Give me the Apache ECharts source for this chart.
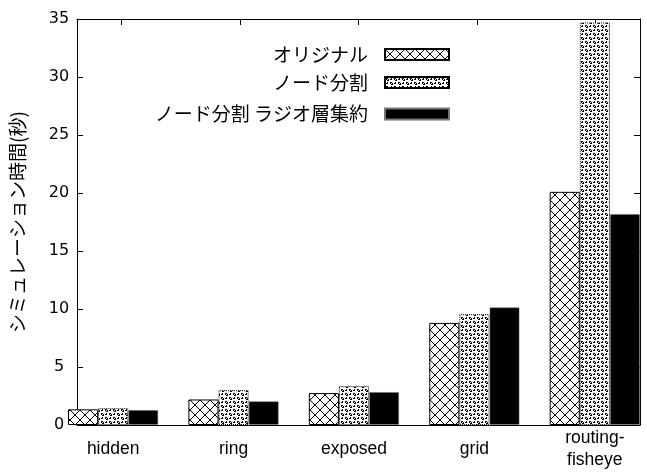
<!DOCTYPE html>
<html><head><meta charset="utf-8">
<script src="https://cdn.jsdelivr.net/npm/echarts@6/dist/echarts.min.js"></script>
<style>html,body{margin:0;padding:0;background:#fff}#c{width:647px;height:474px}</style>
</head><body><div id="c"></div>
<script>
const categories = ['hidden', 'ring', 'exposed', 'grid', 'routing-\nfisheye'];
const seriesNames = ['オリジナル', 'ノード分割', 'ノード分割 ラジオ層集約'];
const original = [1.35, 2.2, 2.75, 8.8, 20.1];
const split = [1.45, 3.0, 3.35, 9.55, 34.7];
const splitAgg = [1.3, 2.05, 2.85, 10.15, 18.2];
const yAxisTitle = 'シミュレーション時間(秒)';

function crossPattern() {
  const c = document.createElement('canvas'); c.width = 10; c.height = 10;
  const g = c.getContext('2d');
  g.fillStyle = '#fff'; g.fillRect(0, 0, 10, 10);
  g.fillStyle = '#000';
  for (let i = 0; i < 10; i++) { g.fillRect(i, i, 1, 1); g.fillRect(9 - i, i, 1, 1); }
  return c;
}
function dotPattern() {
  const c = document.createElement('canvas'); c.width = 8; c.height = 8;
  const g = c.getContext('2d');
  g.fillStyle = '#fff'; g.fillRect(0, 0, 8, 8);
  g.fillStyle = '#000';
  const ring = (cx, cy) => [[0,-1],[-1,0],[1,0],[0,1],[-1,-1],[1,1]]
    .forEach(d => g.fillRect(cx + d[0], cy + d[1], 1, 1));
  ring(2, 2); ring(6, 6);
  g.fillRect(6, 2, 1, 1); g.fillRect(5, 2, 1, 1); g.fillRect(6, 1, 1, 1);
  g.fillRect(2, 6, 1, 1); g.fillRect(1, 6, 1, 1); g.fillRect(2, 5, 1, 1);
  return c;
}

const nCat = categories.length;
const idx = categories.map((_, i) => i);
const styles = [
  { color: { image: crossPattern(), repeat: 'repeat' }, borderColor: '#000', borderWidth: 1 },
  { color: { image: dotPattern(), repeat: 'repeat' }, borderColor: '#000', borderWidth: 1, borderType: 'dotted' },
  { color: '#000', borderColor: '#777', borderWidth: 1, borderType: 'dotted' }
];
const values = [original, split, splitAgg];

// frame: x from 68 to 640; value range [-0.375, nCat-1+0.375]
const frameLeft = 68, frameRight = 640;
const pad = 0.375;
const unit = (frameRight - frameLeft) / (nCat - 1 + 2 * pad);
const catLeft = frameLeft + pad * unit;
const catRight = frameRight - pad * unit;

const chart = echarts.init(document.getElementById('c'), null, { renderer: 'canvas' });
const legendCenters = [54.5, 82.5, 114];
const fontJP = '"Noto Sans CJK JP", sans-serif';

chart.setOption({
  animation: false,
  backgroundColor: '#fff',
  grid: [
    { left: catLeft, right: 647 - catRight, top: 19, bottom: 49, containLabel: false },
    { left: frameLeft, right: 647 - frameRight, top: 19, bottom: 49, containLabel: false }
  ],
  legend: seriesNames.map((n, i) => ({
    data: [n], orient: 'vertical', align: 'right', right: 197, top: legendCenters[i] - 10,
    padding: 0, itemWidth: 64, itemHeight: 11, icon: 'rect', selectedMode: false,
    textStyle: { fontFamily: fontJP, fontSize: 19, color: '#000', lineHeight: 20, padding: [0, 12, 0, 0] }
  })),
  xAxis: [
    { type: 'category', gridIndex: 0, data: categories, boundaryGap: false,
      axisLine: { show: false }, axisTick: { show: false }, splitLine: { show: false },
      axisLabel: { color: '#000', fontFamily: '"Liberation Sans", sans-serif', fontSize: 17.5,
        margin: 24, lineHeight: 22, verticalAlign: 'middle', interval: 0 } },
    { type: 'value', gridIndex: 1, position: 'bottom', min: -pad, max: nCat - 1 + pad,
      axisLine: { show: true, onZero: false, lineStyle: { color: '#000', width: 1 } },
      axisTick: { show: true, inside: true, length: 6, customValues: idx, lineStyle: { color: '#000' } },
      axisLabel: { show: false }, splitLine: { show: false } },
    { type: 'value', gridIndex: 1, position: 'top', min: -pad, max: nCat - 1 + pad,
      axisLine: { show: true, onZero: false, lineStyle: { color: '#000', width: 1 } },
      axisTick: { show: true, inside: true, length: 6, customValues: idx, lineStyle: { color: '#000' } },
      axisLabel: { show: false }, splitLine: { show: false } }
  ],
  yAxis: [
    { type: 'value', gridIndex: 0, min: 0, max: 35, interval: 5, show: false },
    { type: 'value', gridIndex: 1, position: 'left', min: 0, max: 35, interval: 5,
      name: yAxisTitle, nameLocation: 'middle', nameRotate: 90, nameGap: 50,
      nameTextStyle: { fontFamily: fontJP, fontSize: 19, color: '#000' },
      axisLine: { show: true, onZero: false, lineStyle: { color: '#000', width: 1 } },
      axisTick: { show: true, inside: true, length: 6, lineStyle: { color: '#000' } },
      axisLabel: { color: '#000', fontFamily: '"DejaVu Sans", sans-serif', fontSize: 16,
        margin: 18, align: 'center' },
      splitLine: { show: false } },
    { type: 'value', gridIndex: 1, position: 'right', min: 0, max: 35, interval: 5,
      axisLine: { show: true, onZero: false, lineStyle: { color: '#000', width: 1 } },
      axisTick: { show: true, inside: true, length: 6, lineStyle: { color: '#000' } },
      axisLabel: { show: false }, splitLine: { show: false } }
  ],
  series: seriesNames.map((n, s) => ({
    name: n, type: 'bar', xAxisIndex: 0, yAxisIndex: 0,
    barWidth: unit * 0.25, barGap: '0%',
    itemStyle: styles[s],
    data: values[s]
  }))
});
</script></body></html>
